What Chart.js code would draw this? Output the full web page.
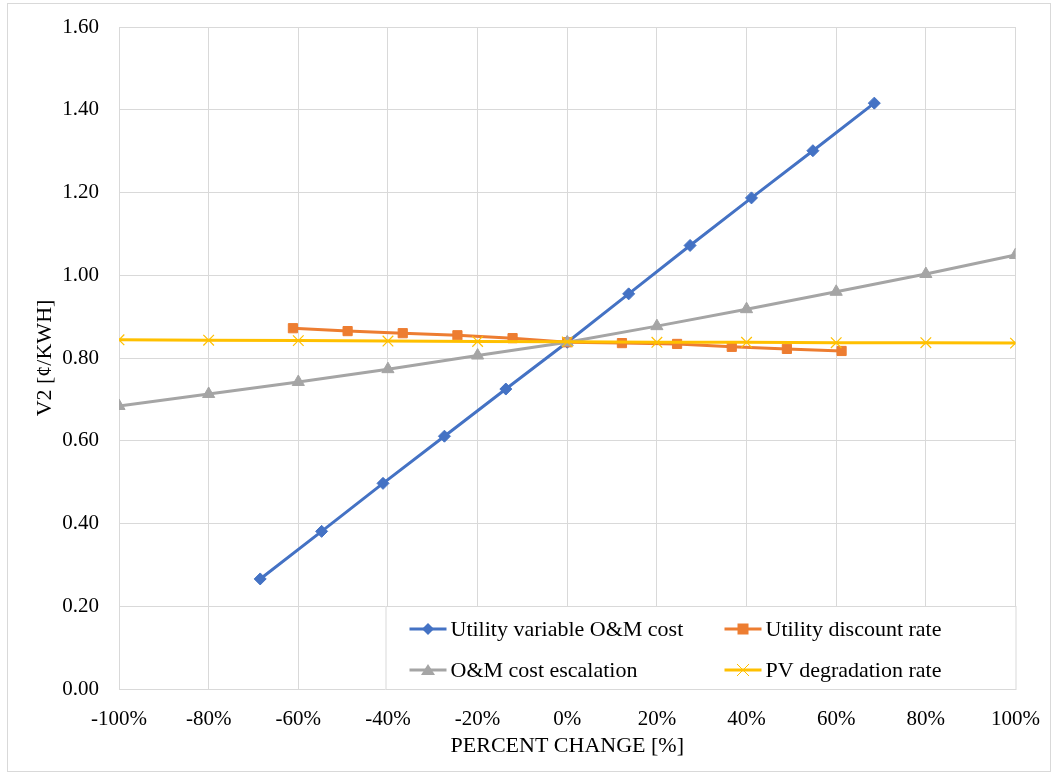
<!DOCTYPE html>
<html>
<head>
<meta charset="utf-8">
<script src="https://cdn.jsdelivr.net/npm/chart.js@4.4.0/dist/chart.umd.min.js"></script>
<style>
  html, body { margin: 0; padding: 0; background: #fff; }
  #wrap { position: relative; width: 1058px; height: 776px; }
</style>
</head>
<body>
<div id="wrap"><canvas id="sens" width="1058" height="776"></canvas></div>
<script>
// values (x = percent change, y = V2 in cents/kWh)
var varOmX = [-68.5, -54.8, -41.1, -27.4, -13.7, 0, 13.7, 27.4, 41.1, 54.8, 68.5];
var varOmY = [0.266, 0.381, 0.497, 0.611, 0.725, 0.838, 0.955, 1.072, 1.187, 1.301, 1.416];
var discX = [-61.2, -49, -36.7, -24.5, -12.2, 0, 12.2, 24.5, 36.7, 49, 61.2];
var discY = [0.872, 0.865, 0.860, 0.855, 0.848, 0.838, 0.836, 0.834, 0.827, 0.822, 0.817];
var escX = [-100, -80, -60, -40, -20, 0, 20, 40, 60, 80, 100];
var escY = [0.684, 0.713, 0.742, 0.773, 0.806, 0.838, 0.877, 0.918, 0.960, 1.003, 1.049];
var degX = [-100, -80, -60, -40, -20, 0, 20, 40, 60, 80, 100];
var degY = [0.844, 0.843, 0.842, 0.841, 0.840, 0.839, 0.838, 0.838, 0.837, 0.837, 0.836];
var seriesNames = ['Utility variable O&M cost', 'Utility discount rate', 'O&M cost escalation', 'PV degradation rate'];

var colors = { blue: '#4472C4', orange: '#ED7D31', gray: '#A5A5A5', yellow: '#FFC000', grid: '#d9d9d9' };
var FONT = 'Liberation Serif, Times New Roman, serif';

function pts(xs, ys) {
  return xs.map(function (x, i) { return { x: x, y: ys[i] }; });
}

function marker(ctx, style, x, y, color) {
  ctx.save();
  ctx.fillStyle = color;
  ctx.strokeStyle = color;
  ctx.beginPath();
  if (style == 'diamond') {
    ctx.moveTo(x, y - 6); ctx.lineTo(x + 6, y); ctx.lineTo(x, y + 6); ctx.lineTo(x - 6, y);
    ctx.closePath(); ctx.fill();
  } else if (style == 'square') {
    ctx.rect(x - 5.5, y - 5.5, 11, 11); ctx.fill();
  } else if (style == 'triangle') {
    ctx.moveTo(x, y - 6); ctx.lineTo(x + 7, y + 5); ctx.lineTo(x - 7, y + 5);
    ctx.closePath(); ctx.fill();
  } else {
    ctx.lineWidth = 1;
    ctx.moveTo(x - 6, y - 6); ctx.lineTo(x + 6, y + 6);
    ctx.moveTo(x + 6, y - 6); ctx.lineTo(x - 6, y + 6);
    ctx.stroke();
  }
  ctx.restore();
}

// legend box drawn inside the plot area, bottom right, two columns
var boxLegend = {
  id: 'boxLegend',
  afterDatasetsDraw: function (chart) {
    var ctx = chart.ctx, a = chart.chartArea;
    var w = 631, h = 84;
    var left = a.right - w + 1, top = a.bottom - h + 1;
    ctx.save();
    ctx.fillStyle = '#fff';
    ctx.fillRect(left, top, w, h);
    ctx.strokeStyle = colors.grid;
    ctx.lineWidth = 1;
    ctx.strokeRect(left + 0.5, top + 0.5, w - 1, h - 1);
    var items = [
      { c: colors.blue, m: 'diamond', col: 0, row: 0 },
      { c: colors.orange, m: 'square', col: 1, row: 0 },
      { c: colors.gray, m: 'triangle', col: 0, row: 1 },
      { c: colors.yellow, m: 'cross', col: 1, row: 1 }
    ];
    ctx.font = '22px ' + FONT;
    ctx.textBaseline = 'middle';
    items.forEach(function (it, i) {
      var x0 = left + 24 + it.col * 315;
      var y0 = top + 23 + it.row * 41;
      ctx.strokeStyle = it.c;
      ctx.lineWidth = 3;
      ctx.beginPath(); ctx.moveTo(x0, y0); ctx.lineTo(x0 + 37, y0); ctx.stroke();
      marker(ctx, it.m, x0 + 18.5, y0, it.c);
      ctx.fillStyle = '#000';
      ctx.fillText(seriesNames[i], x0 + 41, y0 + 1);
    });
    ctx.restore();
  },
  beforeDraw: function (chart) {
    var ctx = chart.ctx;
    ctx.save();
    ctx.fillStyle = '#fff';
    ctx.fillRect(0, 0, chart.width, chart.height);
    ctx.strokeStyle = colors.grid;
    ctx.lineWidth = 1;
    ctx.strokeRect(7.5, 3.5, 1043, 768);
    ctx.restore();
  }
};

function ds(label, data, color, style, radius, order) {
  return {
    label: label,
    data: data,
    borderColor: color,
    backgroundColor: color,
    borderWidth: 3,
    pointStyle: style,
    pointRadius: radius,
    pointBorderWidth: style == 'crossRot' ? 1.2 : 1,
    pointBackgroundColor: color,
    pointBorderColor: color,
    showLine: true,
    tension: 0,
    order: order
  };
}

new Chart(document.getElementById('sens'), {
  type: 'scatter',
  data: {
    datasets: [
      ds(seriesNames[0], pts(varOmX, varOmY), colors.blue, 'rectRot', 6, 4),
      ds(seriesNames[1], pts(discX, discY), colors.orange, 'rect', 6.5, 3),
      ds(seriesNames[2], pts(escX, escY), colors.gray, 'triangle', 7, 2),
      ds(seriesNames[3], pts(degX, degY), colors.yellow, 'crossRot', 7.5, 1)
    ]
  },
  plugins: [boxLegend],
  options: {
    responsive: false,
    animation: false,
    layout: { padding: { left: 0, top: 27, right: 41, bottom: 0 } },
    plugins: { legend: { display: false }, tooltip: { enabled: false } },
    scales: {
      x: {
        type: 'linear', min: -100, max: 100,
        afterFit: function (s) { s.height = 87; },
        grid: { color: colors.grid, drawTicks: false },
        border: { color: colors.grid },
        ticks: { stepSize: 20, padding: 18, color: '#000', font: { family: FONT, size: 21 },
          callback: function (v) { return v + '%'; } },
        title: { display: true, text: 'PERCENT CHANGE [%]', color: '#000',
          font: { family: FONT, size: 22 }, padding: { top: 0, bottom: 17 } }
      },
      y: {
        type: 'linear', min: 0, max: 1.6,
        afterFit: function (s) { s.width = 119; s.paddingTop = 0; s.paddingBottom = 0; },
        grid: { color: colors.grid, drawTicks: false },
        border: { color: colors.grid },
        ticks: { stepSize: 0.2, padding: 20, color: '#000', font: { family: FONT, size: 21 },
          callback: function (v) { return v.toFixed(2); } },
        title: { display: true, text: 'V2 [¢/KWH]', color: '#000',
          font: { family: FONT, size: 22 }, padding: { top: 32, bottom: 0 } }
      }
    }
  }
});
</script>
</body>
</html>
